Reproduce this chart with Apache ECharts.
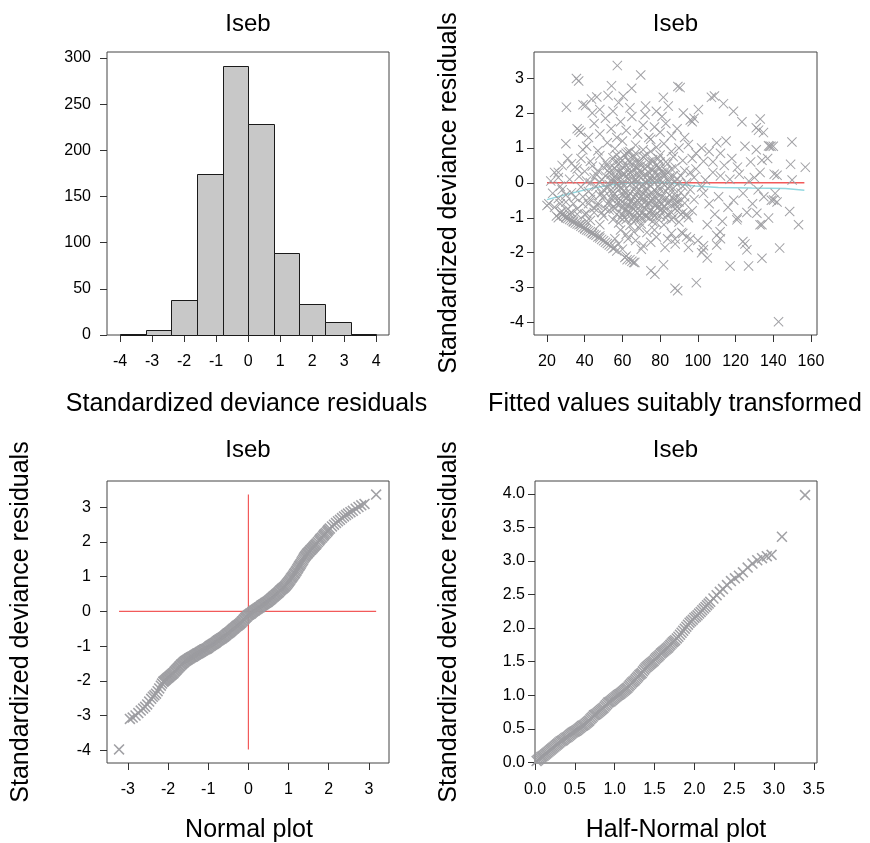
<!DOCTYPE html>
<html><head><meta charset="utf-8">
<script src="https://cdn.jsdelivr.net/npm/echarts@6/dist/echarts.min.js"></script>
<style>html,body{margin:0;padding:0;background:#fff}#c{width:870px;height:843px}</style>
</head><body><div id="c"></div>
<script>
// ---------- data ----------
const histBreaks = [-4, -3.2, -2.4, -1.6, -0.8, 0, 0.8, 1.6, 2.4, 3.2, 4];
const histCounts = [1, 5, 38, 174, 291, 229, 89, 34, 14, 1];
const histXTicks = [-4, -3, -2, -1, 0, 1, 2, 3, 4];
const histYTicks = [0, 50, 100, 150, 200, 250, 300];
const fittedXTicks = [20, 40, 60, 80, 100, 120, 140, 160];
const residTicks = [-4, -3, -2, -1, 0, 1, 2, 3];
const normalXTicks = [-3, -2, -1, 0, 1, 2, 3];
const halfXTicks = [0, 0.5, 1, 1.5, 2, 2.5, 3, 3.5];
const halfYTicks = [0, 0.5, 1, 1.5, 2, 2.5, 3, 3.5, 4];

const fittedOutliers = [
  [57.3,3.36],[69.7,3.09],[35.6,2.99],[36.8,2.92],[64.9,2.71],[54.2,2.78],[89.4,2.76],[90.6,2.73],
  [30.3,2.17],[39.1,2.24],[40.5,2.22],[46.4,2.46],[43.6,2.4],[52.4,2.5],[60.4,2.48],[72.3,2.2],
  [81.7,2.45],[84.3,2.2],[92.3,2.0],[98,1.85],[100.3,2.1],[107.2,2.45],[108.8,2.49],[113.6,2.27],
  [118.9,2.05],[123.4,1.75],[133.1,1.83],[132.2,1.51],[131,1.58],[134.8,1.44],[137.5,1.06],[138.8,1.05],
  [149.9,1.17],[149.2,0.53],[157,0.45],[150,0.08],[142,0.22],[140.5,0.25],
  [142.8,-3.98],[87.9,-3.02],[89.3,-3.09],[99.2,-2.86],[117.1,-2.38],[126.9,-2.38],[134,-2.16],[143.4,-1.87],
  [105,-2.15],[126,-1.92],[123.9,-1.68],[125,-1.75],[153.4,-1.2],[148.7,-0.82],[134,-1.2],[137.5,-1.01],
  [131.3,-0.87],[140.2,-0.49],[142,-0.55],[120.7,-1.06],[111.8,-1.4],[110,-1.78],[102.9,-1.92],[81.8,-2.35],
  [75.1,-2.52],[77.2,-2.62],[66.6,-2.28],[65,-2.25],[61.3,-2.14],[62.5,-2.2],[56,-1.85],[71,-1.8],
  [82.6,-1.85],[87.9,-1.61],[91.4,-1.42],[95,-1.85],[102,-2.0]
];
const fittedCloud = [
  [41,1.05],[47,0.92],[52,1.15],[56,0.98],[60,1.2],[63,0.88],[67,1.08],[71,0.95],[75,1.25],[78,1.02],[82,1.12],[86,0.9],[90,1.0],[95,1.1],[99,0.85],
  [38,0.7],[43,0.62],[48,0.78],[51,0.6],[55,0.72],[58,0.65],[61,0.8],[64,0.58],[66,0.74],[69,0.62],[72,0.78],[76,0.66],[79,0.7],[83,0.6],[87,0.75],[92,0.64],[97,0.7],[103,0.62],
  [36,0.4],[40,0.33],[44,0.48],[47,0.35],[50,0.45],[53,0.3],[56,0.42],[59,0.36],[62,0.5],[65,0.32],[68,0.44],[70,0.3],[73,0.47],[76,0.36],[80,0.42],[84,0.3],[88,0.45],[93,0.35],[99,0.4],
  [32,0.1],[37,0.18],[41,0.05],[45,0.15],[48,0.02],[51,0.2],[54,0.08],[57,0.16],[60,0.0],[63,0.12],[66,0.05],[69,0.18],[72,0.02],[75,0.14],[78,0.06],[82,0.17],[85,0.04],[89,0.12],[94,0.0],[98,0.15],[104,0.08],
  [28,-0.2],[33,-0.28],[38,-0.12],[42,-0.25],[46,-0.1],[49,-0.3],[52,-0.15],[55,-0.26],[58,-0.08],[61,-0.22],[64,-0.3],[67,-0.12],[70,-0.25],[73,-0.18],[76,-0.3],[79,-0.1],[83,-0.24],[87,-0.15],[91,-0.28],[96,-0.2],[102,-0.12],
  [26,-0.45],[30,-0.55],[35,-0.42],[39,-0.6],[43,-0.48],[47,-0.58],[50,-0.4],[53,-0.55],[56,-0.45],[59,-0.6],[62,-0.42],[65,-0.52],[68,-0.6],[71,-0.44],[74,-0.56],[78,-0.46],[81,-0.6],[85,-0.5],[89,-0.42],[93,-0.58],[98,-0.48],
  [24,-0.7],[28,-0.82],[32,-0.9],[36,-0.75],[41,-0.88],[45,-0.72],[49,-0.85],[53,-0.78],[57,-0.9],[60,-0.7],[63,-0.84],[66,-0.76],[69,-0.92],[72,-0.72],[76,-0.86],[80,-0.78],[84,-0.9],[88,-0.74],[92,-0.86],[97,-0.8],
  [30,-1.0],[34,-1.1],[38,-1.18],[43,-1.08],[48,-1.2],[55,-1.05],[58,-1.15],[61,-1.0],[64,-1.22],[67,-1.08],[70,-1.18],[74,-1.02],[78,-1.14],[82,-1.2],[86,-1.05],[90,-1.12],[95,-1.0],
  [40,-1.32],[44,-1.45],[48,-1.52],[59,-1.35],[62,-1.48],[66,-1.4],[69,-1.3],[73,-1.42],[77,-1.35],[92,-1.45],
  [29,-0.95],[31,-1.02],[33,-1.08],[35,-1.15],[37,-1.2],[39,-1.28],[41,-1.35],[43,-1.4],[45,-1.48],[47,-1.55],[49,-1.62],[51,-1.7],[53,-1.78],[55,-1.88],
  [28,-0.92],[30,-0.98],[32,-1.05],[34,-1.12],[36,-1.18],[38,-1.24],[40,-1.3],[42,-1.37],[44,-1.43],[46,-1.5],[48,-1.58],[50,-1.66],[52,-1.74],[54,-1.82],
  [22,0.05],[24,0.3],[26,0.15],[27,-0.1],[21,-0.6],[23,-0.3],[20,-0.65],
  [54,0.25],[57,-0.05],[60,-0.35],[63,-0.65],[66,-0.95],[58,0.55],[61,0.25],[64,-0.05],[67,-0.35],[70,-0.65],[73,-0.95],[62,0.85],[65,0.55],[68,0.25],[71,-0.05],[74,-0.35],[77,-0.65],[80,-0.95],
  [56,-0.72],[59,-1.0],[52,-0.6],[55,-0.35],[58,-0.2],[76,0.6],[79,0.25],[82,-0.05],[85,-0.35],[88,-0.6],[91,-0.9],[75,0.9],[80,0.8],[84,0.55],
  [52,0.5],[55,0.1],[57,0.35],[59,-0.5],[61,-0.8],[62,0.2],[63,-0.4],[64,0.3],[65,-0.7],[66,-0.2],[67,0.1],[68,-0.5],[69,-0.8],[70,0.5],[71,-0.3],[72,-0.55],[73,0.2],[74,-0.85],
  [75,-0.1],[76,-0.45],[77,0.3],[78,-0.25],[79,-0.7],[80,0.1],[81,-0.4],[82,-0.8],[83,0.35],[84,-0.15],[86,-0.65],[87,0.2],[88,-0.3],[90,-0.55],[92,-0.1],[94,-0.9],[96,0.3],
  [50,-0.2],[51,-0.75],[53,-0.05],[54,-0.45],[56,0.05],[57,-0.6],[58,0.3],[59,-0.15],[60,0.45],[61,-0.6],[62,-1.05],[63,0.65],[64,-0.85],[65,0.0],[66,-0.4],[67,0.6],[68,-1.0],[69,0.35],
  [70,-0.1],[71,-0.85],[72,0.4],[73,-0.65],[74,0.05],[75,-0.5],[76,-1.1],[77,0.15],[78,-0.9],[79,0.45],[80,-0.55],[81,0.0],[82,-0.7],[83,-1.0],[85,0.15],[86,-0.85],[87,-0.45],[89,-0.05],[90,-0.75],[93,-0.4],
  [53,0.4],[54,-0.2],[55,-0.7],[56,0.6],[57,0.1],[58,-0.45],[59,0.15],[60,-0.9],[60,0.25],[61,-0.1],[62,-0.3],[62,-0.75],[63,0.35],[64,-0.55],[65,0.15],[65,-1.05],[66,0.4],[66,-0.6],
  [67,-0.8],[68,0.05],[68,-0.25],[69,-0.45],[69,0.55],[70,-0.4],[70,-1.0],[71,0.2],[72,-0.2],[72,-0.95],[73,0.0],[73,-0.4],[74,-0.6],[74,0.3],[75,0.4],[75,-0.8],[76,0.05],[77,-0.2],
  [77,-0.95],[78,0.5],[78,-0.6],[79,-0.35],[80,-0.2],[80,0.6],[81,-0.75],[81,0.3],[82,0.25],[83,-0.45],[84,-0.6],[85,-0.1],[86,0.4],[87,-1.0],[88,0.05],[89,-0.55],[91,0.2],
  [57,0.8],[60,0.65],[64,0.9],[67,0.85],[71,0.75],[74,0.6],
  [44,-0.35],[45,-0.85],[46,0.25],[47,-0.65],[48,-0.35],[49,0.1],[50,-0.95],[42,-0.6],[40,-0.9],[43,0.0],[39,-0.4],[41,-1.1],[36,-0.9],[34,-0.6],[33,-0.85],[31,-0.75],[30,-0.35],[27,-0.6],[25,-0.95],[26,-1.0],[27,-0.85],
  [36,1.55],[38,1.45],[42,1.3],[45,1.7],[48,1.4],[51,1.85],[54,1.55],[57,1.3],[59,1.75],[62,1.5],[65,1.9],[68,1.4],[71,1.65],[74,1.3],[77,1.6],[80,1.45],[83,1.7],[86,1.35],[89,1.55],[93,1.3],[96,1.8],[97,1.75],
  [44,2.0],[48,2.1],[55,2.05],[58,2.3],[64,2.15],[72,1.95],[78,2.05],[81,1.9],
  [102,1.0],[106,0.9],[108,0.6],[110,1.15],[112,0.85],[115,1.2],[114,0.5],[118,0.7],[121,0.45],[125,1.05],[128,0.6],[131,0.95],[133,0.3],[134,0.65],[137,0.7],[138,1.05],[140,1.05],
  [108,0.3],[112,0.2],[117,0.1],[122,0.25],[127,0.05],[130,0.15],
  [103,-0.3],[106,-0.6],[109,-0.9],[111,-0.4],[113,-1.1],[116,-0.7],[119,-0.5],[121,-1.0],[124,-0.3],[126,-0.85],[129,-0.6],[132,-0.2],[133,-1.2],[135,-0.4],[139,-0.5],[141,-0.3],
  [105,-1.2],[110,-1.5],[112,-1.6],[100,-1.65],[103,-1.8],[96,-1.6],[94,-1.55],
  [56,-1.6],[58,-1.75],[60,-1.9],[62,-2.1],[64,-2.2],[66,-2.28],[57,-1.95],[63,-1.6],[67,-1.65],[70,-1.9],[75,-1.7],[78,-1.55],[84,-1.6],[88,-1.75],[86,-1.45],
  [28,0.5],[31,0.7],[30,1.12],[33,0.55],[35,0.45],[26,0.3],[37,1.5],[39,0.95]
];
const fittedZeroLine = [[20,0],[156.5,0]];
const fittedSmooth = [[20,-0.48],[31.2,-0.32],[41.8,-0.18],[52.4,-0.07],[59.5,-0.02],[73.7,0],[84.3,0],[98.5,-0.09],[110.9,-0.13],[128.6,-0.15],[146.4,-0.16],[156.5,-0.21]];

const normalPoints = [
  [-3.22,-3.98],[-2.95,-3.1],[-2.88,-3.06],[-2.81,-3.0],[-2.74,-2.93],[-2.68,-2.86],[-2.62,-2.8],[-2.57,-2.75],[-2.52,-2.68],[-2.47,-2.6],
  [-2.42,-2.52],[-2.38,-2.46],[-2.34,-2.42],[-2.3,-2.37],[-2.26,-2.3],[-2.22,-2.22],[-2.18,-2.14],[-2.15,-2.08],[-2.12,-2.03],[-2.08,-1.99],
  [-2.04,-1.95],[-2.0,-1.91],[-1.96,-1.87],[-1.92,-1.83],[-1.88,-1.79],[-1.84,-1.74],[-1.8,-1.69],[-1.76,-1.64],[-1.72,-1.59],[-1.68,-1.54],
  [-1.64,-1.5],[-1.6,-1.46],[-1.56,-1.42],[-1.52,-1.39],[-1.48,-1.36],[-1.44,-1.33],[-1.4,-1.31],[-1.36,-1.28],[-1.32,-1.25],[-1.28,-1.22],
  [-1.24,-1.2],[-1.2,-1.17],[-1.16,-1.14],[-1.12,-1.12],[-1.08,-1.09],[-1.04,-1.07],[-1.0,-1.04],[-0.96,-1.0],[-0.92,-0.97],[-0.88,-0.94],
  [-0.84,-0.91],[-0.8,-0.88],[-0.76,-0.84],[-0.72,-0.81],[-0.68,-0.78],[-0.64,-0.75],[-0.6,-0.72],[-0.56,-0.68],[-0.52,-0.64],[-0.48,-0.61],
  [-0.44,-0.57],[-0.4,-0.53],[-0.36,-0.49],[-0.32,-0.45],[-0.28,-0.41],[-0.24,-0.38],[-0.2,-0.34],[-0.16,-0.29],[-0.12,-0.24],[-0.08,-0.19],
  [-0.04,-0.15],[0.0,-0.1],[0.04,-0.07],[0.08,-0.04],[0.12,0.0],[0.16,0.03],[0.2,0.06],[0.24,0.09],[0.28,0.12],[0.32,0.16],
  [0.36,0.19],[0.4,0.22],[0.44,0.25],[0.48,0.28],[0.52,0.32],[0.56,0.36],[0.6,0.4],[0.64,0.44],[0.68,0.48],[0.72,0.52],
  [0.76,0.56],[0.8,0.61],[0.84,0.65],[0.88,0.69],[0.92,0.73],[0.96,0.79],[1.0,0.85],[1.04,0.91],[1.08,0.98],[1.12,1.04],
  [1.16,1.11],[1.2,1.18],[1.24,1.26],[1.28,1.33],[1.32,1.41],[1.36,1.49],[1.4,1.57],[1.44,1.63],[1.48,1.68],[1.52,1.73],
  [1.56,1.78],[1.6,1.83],[1.64,1.88],[1.68,1.93],[1.73,2.0],[1.78,2.07],[1.83,2.13],[1.88,2.2],[1.93,2.26],[1.98,2.33],
  [2.03,2.39],[2.08,2.45],[2.13,2.5],[2.18,2.55],[2.23,2.6],[2.28,2.64],[2.33,2.69],[2.38,2.74],[2.43,2.78],[2.48,2.82],
  [2.54,2.86],[2.6,2.9],[2.67,2.96],[2.74,3.01],[2.81,3.06],[2.89,3.1],[3.18,3.37]
];
const normalPointsDense = [
  [-2.1,-2.01],[-2.06,-1.97],[-2.02,-1.93],[-1.98,-1.89],[-1.94,-1.85],[-1.9,-1.81],[-1.86,-1.77],[-1.82,-1.72],[-1.78,-1.67],[-1.74,-1.62],
  [-1.7,-1.57],[-1.66,-1.52],[-1.62,-1.48],[-1.58,-1.44],[-1.54,-1.41],[-1.5,-1.38],[-1.46,-1.35],[-1.42,-1.32],[-1.38,-1.3],[-1.34,-1.27],
  [-1.3,-1.24],[-1.26,-1.21],[-1.22,-1.19],[-1.18,-1.16],[-1.14,-1.13],[-1.1,-1.1],[-1.06,-1.08],[-1.02,-1.06],[-0.98,-1.02],[-0.94,-0.99],
  [-0.9,-0.96],[-0.86,-0.93],[-0.82,-0.9],[-0.78,-0.86],[-0.74,-0.83],[-0.7,-0.8],[-0.66,-0.77],[-0.62,-0.74],[-0.58,-0.7],[-0.54,-0.66],
  [-0.5,-0.63],[-0.46,-0.59],[-0.42,-0.55],[-0.38,-0.51],[-0.34,-0.47],[-0.3,-0.43],[-0.26,-0.4],[-0.22,-0.36],[-0.18,-0.32],[-0.14,-0.27],
  [-0.1,-0.22],[-0.06,-0.17],[-0.02,-0.12],[0.02,-0.09],[0.06,-0.06],[0.1,-0.02],[0.14,0.02],[0.18,0.05],[0.22,0.08],[0.26,0.11],
  [0.3,0.14],[0.34,0.18],[0.38,0.21],[0.42,0.24],[0.46,0.27],[0.5,0.3],[0.54,0.34],[0.58,0.38],[0.62,0.42],[0.66,0.46],
  [0.7,0.5],[0.74,0.54],[0.78,0.59],[0.82,0.63],[0.86,0.67],[0.9,0.71],[0.94,0.76],[0.98,0.82],[1.02,0.88],[1.06,0.95],
  [1.1,1.01],[1.14,1.08],[1.18,1.15],[1.22,1.22],[1.26,1.3],[1.3,1.37],[1.34,1.45],[1.38,1.53],[1.42,1.6],[1.46,1.66],
  [1.5,1.71],[1.54,1.76],[1.58,1.81],[1.62,1.86],[1.66,1.91],[1.7,1.96],[1.76,2.04],[1.8,2.1],[1.86,2.17],[1.9,2.23],
  [1.96,2.3],[2.0,2.36]
];
const normalHLine = [[-3.22,0],[3.18,0]];
const normalVLine = [[0,-3.98],[0,3.37]];

const halfNormalPoints = [
  [0.02,0.02],[0.05,0.05],[0.08,0.08],[0.11,0.1],[0.14,0.13],[0.17,0.16],[0.2,0.19],[0.23,0.22],[0.26,0.25],[0.29,0.28],
  [0.32,0.31],[0.35,0.33],[0.38,0.36],[0.41,0.38],[0.44,0.41],[0.47,0.44],[0.5,0.46],[0.53,0.48],[0.56,0.51],[0.59,0.54],
  [0.62,0.56],[0.65,0.59],[0.68,0.62],[0.71,0.66],[0.74,0.7],[0.77,0.72],[0.8,0.75],[0.83,0.78],[0.86,0.81],[0.89,0.85],
  [0.92,0.89],[0.95,0.91],[0.98,0.94],[1.01,0.97],[1.04,1.0],[1.07,1.02],[1.1,1.05],[1.13,1.08],[1.16,1.11],[1.19,1.15],
  [1.22,1.19],[1.25,1.22],[1.28,1.26],[1.31,1.3],[1.34,1.33],[1.37,1.38],[1.4,1.42],[1.43,1.45],[1.46,1.48],[1.49,1.51],
  [1.52,1.55],[1.55,1.58],[1.58,1.62],[1.61,1.65],[1.64,1.68],[1.67,1.71],[1.7,1.75],[1.73,1.79],[1.76,1.82],[1.8,1.87],
  [1.84,1.93],[1.88,1.99],[1.92,2.05],[1.96,2.1],[2.0,2.15],[2.04,2.19],[2.08,2.24],[2.12,2.29],[2.16,2.34],[2.2,2.39],
  [2.24,2.44],[2.28,2.49],[2.32,2.54],[2.36,2.58],[2.41,2.64],[2.46,2.7],[2.51,2.74],[2.56,2.78],[2.61,2.83],[2.67,2.9],
  [2.73,2.96],[2.79,3.01],[2.85,3.04],[2.91,3.07],[2.97,3.09],[3.1,3.36],[3.39,3.98]
];
const halfNormalDense = [
  [0.035,0.035],[0.065,0.065],[0.095,0.09],[0.125,0.115],[0.155,0.145],[0.185,0.175],[0.215,0.205],[0.245,0.235],[0.275,0.265],[0.305,0.295],
  [0.335,0.32],[0.365,0.345],[0.395,0.37],[0.425,0.395],[0.455,0.425],[0.485,0.45],[0.515,0.47],[0.545,0.495],[0.575,0.525],[0.605,0.55],
  [0.635,0.575],[0.665,0.605],[0.695,0.64],[0.725,0.68],[0.755,0.71],[0.785,0.735],[0.815,0.765],[0.845,0.795],[0.875,0.83],[0.905,0.87],
  [0.935,0.9],[0.965,0.925],[0.995,0.955],[1.025,0.985],[1.055,1.01],[1.085,1.035],[1.115,1.065],[1.145,1.095],[1.175,1.13],[1.205,1.17],
  [1.235,1.205],[1.265,1.24],[1.295,1.28],[1.325,1.315],[1.355,1.355],[1.385,1.4],[1.415,1.435],[1.445,1.465],[1.475,1.495],[1.505,1.53],
  [1.535,1.565],[1.565,1.6],[1.595,1.635],[1.625,1.665],[1.655,1.695],[1.685,1.73],[1.715,1.77],[1.745,1.805],[1.78,1.845],[1.82,1.9],
  [1.86,1.96],[1.9,2.02],[1.94,2.08],[1.98,2.125],[2.02,2.17],[2.06,2.215],[2.1,2.265],[2.14,2.315],[2.18,2.365]
];

// ---------- chart ----------
const FONT = '"Liberation Sans", Arial, Helvetica, sans-serif';
const PT = '#9c9ca0';
const XMARK = 'path://M0,0.7L0.7,0L5,4.3L9.3,0L10,0.7L5.7,5L10,9.3L9.3,10L5,5.7L0.7,10L0,9.3L4.3,5Z';
const XMARK_BOLD = 'path://M0,1.0L1.0,0L5,4.0L9.0,0L10,1.0L6.0,5L10,9.0L9.0,10L5,6.0L1.0,10L0,9.0L4.0,5Z';

function axis(gi, min, max, ticks, margin, fmt) {
  return {
    type: 'value', gridIndex: gi, min: min, max: max, scale: true,
    splitLine: { show: false },
    axisLine: { show: false, onZero: false },
    axisTick: { show: true, inside: false, length: 7, customValues: ticks, lineStyle: { color: '#333', width: 1 } },
    axisLabel: { show: true, customValues: ticks, margin: margin, color: '#000', fontSize: 16, fontFamily: FONT,
      formatter: fmt || function (v) { return String(v); } }
  };
}
const oneDec = function (v) { return v.toFixed(1); };

function gridBox(left, top, w, h) {
  return { left: left, top: top, width: w, height: h, show: true, borderColor: '#444', borderWidth: 1,
    backgroundColor: 'rgba(0,0,0,0)', containLabel: false, outerBoundsMode: 'none' };
}

const histData = histCounts.map(function (c, i) { return [histBreaks[i], histBreaks[i + 1], c]; });

function txt(x, y, s, size, rot) {
  return { type: 'text', x: x, y: y, rotation: rot || 0, silent: true,
    style: { text: s, x: 0, y: 0, font: size + 'px ' + FONT, fill: '#000',
      align: 'center', verticalAlign: 'middle', textAlign: 'center', textVerticalAlign: 'middle' } };
}

function scatter(xi, data, size, mark) {
  return { type: 'scatter', xAxisIndex: xi, yAxisIndex: xi, data: data, symbol: mark, symbolSize: size,
    itemStyle: { color: PT, opacity: 0.95 }, z: 3, silent: true, animation: false };
}
function line(xi, data, color, w) {
  return { type: 'line', xAxisIndex: xi, yAxisIndex: xi, data: data, showSymbol: false, symbol: 'none',
    lineStyle: { color: color, width: w }, z: 2, silent: true, animation: false };
}

const chart = echarts.init(document.getElementById('c'), null, { renderer: 'canvas' });
chart.setOption({
  animation: false,
  backgroundColor: '#fff',
  grid: [gridBox(107, 52, 282, 283), gridBox(534, 52, 283, 283), gridBox(107, 481, 282, 282), gridBox(535, 481, 282, 282)],
  xAxis: [
    axis(0, -4.41, 4.40, histXTicks, 19),
    axis(1, 13.1, 163.2, fittedXTicks, 19),
    axis(2, -3.52, 3.5, normalXTicks, 19),
    axis(3, 0, 3.54, halfXTicks, 19, oneDec)
  ],
  yAxis: [
    axis(0, 0, 306.5, histYTicks, 16),
    axis(1, -4.36, 3.75, residTicks, 10),
    axis(2, -4.37, 3.76, residTicks, 16),
    axis(3, -0.01, 4.19, halfYTicks, 10, oneDec)
  ],
  series: [
    { type: 'custom', xAxisIndex: 0, yAxisIndex: 0, data: histData, encode: { x: [0, 1], y: 2 }, silent: true,
      renderItem: function (params, api) {
        const p0 = api.coord([api.value(0), api.value(2)]);
        const p1 = api.coord([api.value(1), 0]);
        return { type: 'rect', shape: { x: Math.round(p0[0]) + 0.5, y: Math.round(p0[1]) + 0.5,
          width: Math.round(p1[0]) - Math.round(p0[0]), height: Math.round(p1[1]) - Math.round(p0[1]) },
          style: { fill: '#c8c8c8', stroke: '#1a1a1a', lineWidth: 1 } };
      } },
    line(1, fittedZeroLine, '#f25a5a', 1.5),
    line(1, fittedSmooth, '#92d8e0', 1.5),
    scatter(1, fittedOutliers.concat(fittedCloud), 10, XMARK),
    line(2, normalHLine, '#f25a5a', 1.2),
    line(2, normalVLine, '#f25a5a', 1.2),
    scatter(2, normalPoints.concat(normalPointsDense), 11, XMARK_BOLD),
    scatter(3, halfNormalPoints.concat(halfNormalDense), 11, XMARK_BOLD)
  ],
  graphic: [
    txt(248, 24, 'Iseb', 24), txt(675.5, 24, 'Iseb', 24), txt(248, 450.5, 'Iseb', 24), txt(675.5, 450.5, 'Iseb', 24),
    txt(246.5, 404, 'Standardized deviance residuals', 25),
    txt(675, 404, 'Fitted values suitably transformed', 25),
    txt(249, 830, 'Normal plot', 25),
    txt(676, 830, 'Half-Normal plot', 25),
    txt(449, 193, 'Standardized deviance residuals', 25, Math.PI / 2),
    txt(21, 622, 'Standardized deviance residuals', 25, Math.PI / 2),
    txt(449, 622, 'Standardized deviance residuals', 25, Math.PI / 2)
  ]
});
</script></body></html>
